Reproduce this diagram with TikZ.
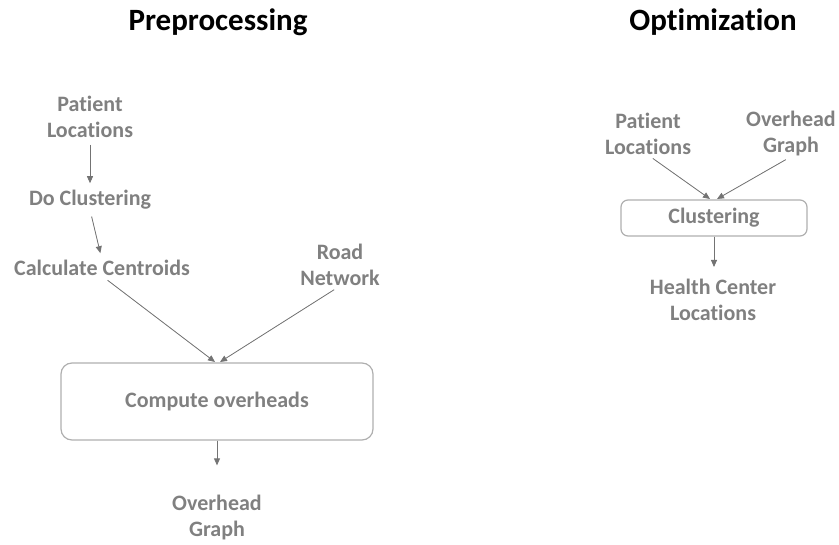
\documentclass[tikz,border=0pt]{standalone}
\usepackage{fontspec}
\setmainfont{Carlito}[Ligatures=NoCommon]
\usetikzlibrary{arrows.meta}
\definecolor{txtgray}{RGB}{128,128,128}
\definecolor{linegray}{RGB}{115,115,115}
\definecolor{boxgray}{RGB}{175,175,175}

\begin{document}
\begin{tikzpicture}[x=1pt, y=-1pt,
    title/.style={font=\fontsize{31}{36}\selectfont\bfseries, text=black},
    lbl/.style={font=\fontsize{22}{26}\selectfont\bfseries, text=txtgray, align=center, inner sep=0pt},
    procbox/.style={draw=boxgray, line width=1.2pt, rounded corners=11pt},
    arr/.style={-{Triangle[length=7pt, width=6pt]}, draw=linegray, fill=linegray, line width=0.8pt}]
    \useasboundingbox (0, 0) rectangle (839, 545);

    \node[title] (pre) at (218, 22) {Preprocessing};
    \node[title] (opt) at (713, 22) {Optimization};

    % preprocessing
    \node[lbl] (PL) at (90, 117) {Patient\\Locations};
    \node[lbl] (DC) at (90, 200) {Do Clustering};
    \node[lbl] (CC) at (102, 268) {Calculate Centroids};
    \node[lbl] (RN) at (340, 265) {Road\\Network};
    \node[procbox, minimum width=312pt, minimum height=77pt] (CO) at (217, 401.5) {};
    \node[lbl] (COt) at (CO.center) {Compute overheads};
    \node[lbl] (OG) at (217, 518) {Overhead\\Graph};
    \coordinate (COin1) at (215, 362);
    \coordinate (COin2) at (220, 362);

    \draw[arr, shorten <=7pt, shorten >=7pt] (PL.south) -- (DC.north);
    \draw[arr, shorten <=7pt, shorten >=7pt] (DC.south) -- (CC.north);
    \draw[arr, shorten <=7pt] (CC.south) -- (COin1);
    \draw[arr, shorten <=7pt] (RN.south) -- (COin2);
    \draw[arr, shorten >=30pt] (CO.south) -- (OG.north);

    % optimization
    \node[lbl] (PL2) at (648, 134) {Patient\\Locations};
    \node[lbl] (OG2) at (791, 134) {Overhead\\Graph};
    \node[procbox, minimum width=186pt, minimum height=36pt, rounded corners=7pt] (CL) at (714, 218) {};
    \node[lbl] (CLt) at (CL.center) {Clustering};
    \node[lbl] (HC) at (713, 300) {Health Center\\Locations};
    \coordinate (CLin1) at (710, 199);
    \coordinate (CLin2) at (717, 199);

    \draw[arr, shorten <=6pt] (PL2.south) -- (CLin1);
    \draw[arr, shorten <=6pt] (OG2.south) -- (CLin2);
    \draw[arr, shorten >=12pt] (CL.south) -- (CL.south |- HC.north);
\end{tikzpicture}
\end{document}
